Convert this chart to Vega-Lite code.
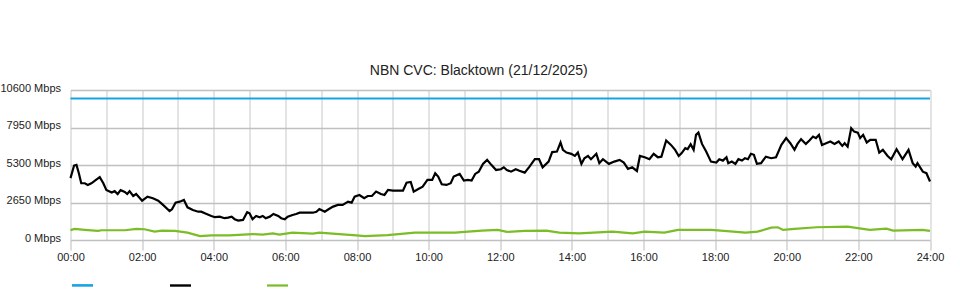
{
  "$schema": "https://vega.github.io/schema/vega-lite/v6.json",
  "width": 859.5,
  "height": 150,
  "autosize": {"type": "none"},
  "padding": {"left": 70.5, "top": 90, "right": 30, "bottom": 60},
  "background": "white",
  "config": {
    "view": {"stroke": null},
    "font": "Liberation Sans"
  },
  "title": {
    "text": "NBN CVC: Blacktown (21/12/2025)",
    "anchor": "middle",
    "frame": "group",
    "dx": -21.5,
    "offset": 4,
    "fontSize": 14,
    "fontWeight": "normal",
    "color": "#222222",
    "font": "Liberation Sans"
  },
  "data": {
    "values": [
      {"s": "Capacity", "t": 0, "v": 10000},
      {"s": "Capacity", "t": 1440, "v": 10000},
      {"s": "Download", "t": 0, "v": 4370},
      {"s": "Download", "t": 6, "v": 5260},
      {"s": "Download", "t": 10, "v": 5310},
      {"s": "Download", "t": 14, "v": 4720},
      {"s": "Download", "t": 18, "v": 4010},
      {"s": "Download", "t": 24, "v": 4010},
      {"s": "Download", "t": 29, "v": 3890},
      {"s": "Download", "t": 35, "v": 4010},
      {"s": "Download", "t": 41, "v": 4200},
      {"s": "Download", "t": 49, "v": 4440},
      {"s": "Download", "t": 55, "v": 4010},
      {"s": "Download", "t": 60, "v": 3540},
      {"s": "Download", "t": 69, "v": 3350},
      {"s": "Download", "t": 74, "v": 3450},
      {"s": "Download", "t": 79, "v": 3250},
      {"s": "Download", "t": 84, "v": 3520},
      {"s": "Download", "t": 91, "v": 3400},
      {"s": "Download", "t": 95, "v": 3250},
      {"s": "Download", "t": 99, "v": 3450},
      {"s": "Download", "t": 105, "v": 3110},
      {"s": "Download", "t": 110, "v": 3250},
      {"s": "Download", "t": 120, "v": 2780},
      {"s": "Download", "t": 129, "v": 3060},
      {"s": "Download", "t": 138, "v": 2950},
      {"s": "Download", "t": 147, "v": 2780},
      {"s": "Download", "t": 155, "v": 2480},
      {"s": "Download", "t": 166, "v": 2050},
      {"s": "Download", "t": 170, "v": 2170},
      {"s": "Download", "t": 176, "v": 2640},
      {"s": "Download", "t": 183, "v": 2710},
      {"s": "Download", "t": 190, "v": 2830},
      {"s": "Download", "t": 196, "v": 2310},
      {"s": "Download", "t": 205, "v": 2120},
      {"s": "Download", "t": 214, "v": 2000},
      {"s": "Download", "t": 219, "v": 2000},
      {"s": "Download", "t": 228, "v": 1840},
      {"s": "Download", "t": 236, "v": 1700},
      {"s": "Download", "t": 242, "v": 1610},
      {"s": "Download", "t": 250, "v": 1650},
      {"s": "Download", "t": 258, "v": 1540},
      {"s": "Download", "t": 264, "v": 1580},
      {"s": "Download", "t": 270, "v": 1650},
      {"s": "Download", "t": 275, "v": 1470},
      {"s": "Download", "t": 281, "v": 1370},
      {"s": "Download", "t": 289, "v": 1420},
      {"s": "Download", "t": 296, "v": 1960},
      {"s": "Download", "t": 300, "v": 1890},
      {"s": "Download", "t": 305, "v": 1470},
      {"s": "Download", "t": 311, "v": 1700},
      {"s": "Download", "t": 317, "v": 1610},
      {"s": "Download", "t": 322, "v": 1700},
      {"s": "Download", "t": 327, "v": 1540},
      {"s": "Download", "t": 334, "v": 1650},
      {"s": "Download", "t": 340, "v": 1840},
      {"s": "Download", "t": 348, "v": 1700},
      {"s": "Download", "t": 353, "v": 1540},
      {"s": "Download", "t": 359, "v": 1470},
      {"s": "Download", "t": 364, "v": 1650},
      {"s": "Download", "t": 372, "v": 1770},
      {"s": "Download", "t": 378, "v": 1840},
      {"s": "Download", "t": 384, "v": 1930},
      {"s": "Download", "t": 395, "v": 1930},
      {"s": "Download", "t": 406, "v": 1930},
      {"s": "Download", "t": 412, "v": 2000},
      {"s": "Download", "t": 417, "v": 2190},
      {"s": "Download", "t": 426, "v": 2000},
      {"s": "Download", "t": 433, "v": 2190},
      {"s": "Download", "t": 440, "v": 2360},
      {"s": "Download", "t": 448, "v": 2480},
      {"s": "Download", "t": 456, "v": 2480},
      {"s": "Download", "t": 465, "v": 2710},
      {"s": "Download", "t": 471, "v": 2640},
      {"s": "Download", "t": 476, "v": 3060},
      {"s": "Download", "t": 484, "v": 3180},
      {"s": "Download", "t": 492, "v": 2950},
      {"s": "Download", "t": 498, "v": 3110},
      {"s": "Download", "t": 505, "v": 3110},
      {"s": "Download", "t": 512, "v": 3420},
      {"s": "Download", "t": 520, "v": 3250},
      {"s": "Download", "t": 526, "v": 3180},
      {"s": "Download", "t": 532, "v": 3540},
      {"s": "Download", "t": 540, "v": 3490},
      {"s": "Download", "t": 549, "v": 3490},
      {"s": "Download", "t": 557, "v": 3490},
      {"s": "Download", "t": 563, "v": 4050},
      {"s": "Download", "t": 570, "v": 4100},
      {"s": "Download", "t": 575, "v": 3420},
      {"s": "Download", "t": 582, "v": 3590},
      {"s": "Download", "t": 590, "v": 3770},
      {"s": "Download", "t": 598, "v": 4250},
      {"s": "Download", "t": 606, "v": 4250},
      {"s": "Download", "t": 611, "v": 4720},
      {"s": "Download", "t": 616, "v": 4480},
      {"s": "Download", "t": 622, "v": 3940},
      {"s": "Download", "t": 630, "v": 3890},
      {"s": "Download", "t": 637, "v": 4010},
      {"s": "Download", "t": 642, "v": 4480},
      {"s": "Download", "t": 652, "v": 4670},
      {"s": "Download", "t": 659, "v": 4200},
      {"s": "Download", "t": 666, "v": 4250},
      {"s": "Download", "t": 672, "v": 4200},
      {"s": "Download", "t": 678, "v": 4670},
      {"s": "Download", "t": 684, "v": 4830},
      {"s": "Download", "t": 691, "v": 5380},
      {"s": "Download", "t": 698, "v": 5660},
      {"s": "Download", "t": 705, "v": 5310},
      {"s": "Download", "t": 713, "v": 4950},
      {"s": "Download", "t": 721, "v": 5000},
      {"s": "Download", "t": 726, "v": 5140},
      {"s": "Download", "t": 731, "v": 4950},
      {"s": "Download", "t": 738, "v": 4830},
      {"s": "Download", "t": 746, "v": 5000},
      {"s": "Download", "t": 752, "v": 4900},
      {"s": "Download", "t": 761, "v": 4760},
      {"s": "Download", "t": 769, "v": 5190},
      {"s": "Download", "t": 778, "v": 5710},
      {"s": "Download", "t": 785, "v": 5710},
      {"s": "Download", "t": 791, "v": 5140},
      {"s": "Download", "t": 801, "v": 5540},
      {"s": "Download", "t": 807, "v": 6210},
      {"s": "Download", "t": 815, "v": 6250},
      {"s": "Download", "t": 821, "v": 6890},
      {"s": "Download", "t": 825, "v": 6370},
      {"s": "Download", "t": 831, "v": 6180},
      {"s": "Download", "t": 839, "v": 6090},
      {"s": "Download", "t": 845, "v": 5940},
      {"s": "Download", "t": 850, "v": 6180},
      {"s": "Download", "t": 856, "v": 5380},
      {"s": "Download", "t": 861, "v": 5780},
      {"s": "Download", "t": 867, "v": 5940},
      {"s": "Download", "t": 872, "v": 5710},
      {"s": "Download", "t": 881, "v": 6090},
      {"s": "Download", "t": 886, "v": 5430},
      {"s": "Download", "t": 892, "v": 5710},
      {"s": "Download", "t": 902, "v": 5380},
      {"s": "Download", "t": 911, "v": 5540},
      {"s": "Download", "t": 920, "v": 5660},
      {"s": "Download", "t": 927, "v": 5470},
      {"s": "Download", "t": 934, "v": 5020},
      {"s": "Download", "t": 941, "v": 5140},
      {"s": "Download", "t": 949, "v": 4880},
      {"s": "Download", "t": 954, "v": 5940},
      {"s": "Download", "t": 962, "v": 5850},
      {"s": "Download", "t": 970, "v": 5710},
      {"s": "Download", "t": 977, "v": 6090},
      {"s": "Download", "t": 984, "v": 5850},
      {"s": "Download", "t": 990, "v": 5890},
      {"s": "Download", "t": 998, "v": 7030},
      {"s": "Download", "t": 1006, "v": 6720},
      {"s": "Download", "t": 1013, "v": 6370},
      {"s": "Download", "t": 1019, "v": 5940},
      {"s": "Download", "t": 1024, "v": 6140},
      {"s": "Download", "t": 1030, "v": 6490},
      {"s": "Download", "t": 1034, "v": 6420},
      {"s": "Download", "t": 1039, "v": 6770},
      {"s": "Download", "t": 1044, "v": 6370},
      {"s": "Download", "t": 1048, "v": 7430},
      {"s": "Download", "t": 1052, "v": 7590},
      {"s": "Download", "t": 1058, "v": 6790},
      {"s": "Download", "t": 1065, "v": 6250},
      {"s": "Download", "t": 1073, "v": 5540},
      {"s": "Download", "t": 1082, "v": 5470},
      {"s": "Download", "t": 1087, "v": 5710},
      {"s": "Download", "t": 1093, "v": 5610},
      {"s": "Download", "t": 1099, "v": 5850},
      {"s": "Download", "t": 1102, "v": 5430},
      {"s": "Download", "t": 1108, "v": 5540},
      {"s": "Download", "t": 1114, "v": 5380},
      {"s": "Download", "t": 1119, "v": 5710},
      {"s": "Download", "t": 1125, "v": 5610},
      {"s": "Download", "t": 1130, "v": 5780},
      {"s": "Download", "t": 1135, "v": 5710},
      {"s": "Download", "t": 1140, "v": 6090},
      {"s": "Download", "t": 1145, "v": 6020},
      {"s": "Download", "t": 1150, "v": 5380},
      {"s": "Download", "t": 1157, "v": 5430},
      {"s": "Download", "t": 1165, "v": 5890},
      {"s": "Download", "t": 1174, "v": 5780},
      {"s": "Download", "t": 1182, "v": 5850},
      {"s": "Download", "t": 1191, "v": 6720},
      {"s": "Download", "t": 1199, "v": 7200},
      {"s": "Download", "t": 1206, "v": 6840},
      {"s": "Download", "t": 1213, "v": 6370},
      {"s": "Download", "t": 1218, "v": 6790},
      {"s": "Download", "t": 1224, "v": 7130},
      {"s": "Download", "t": 1232, "v": 6790},
      {"s": "Download", "t": 1238, "v": 7030},
      {"s": "Download", "t": 1244, "v": 7310},
      {"s": "Download", "t": 1249, "v": 7200},
      {"s": "Download", "t": 1254, "v": 7430},
      {"s": "Download", "t": 1259, "v": 6720},
      {"s": "Download", "t": 1266, "v": 6840},
      {"s": "Download", "t": 1273, "v": 6960},
      {"s": "Download", "t": 1280, "v": 6790},
      {"s": "Download", "t": 1287, "v": 6960},
      {"s": "Download", "t": 1293, "v": 6650},
      {"s": "Download", "t": 1297, "v": 6840},
      {"s": "Download", "t": 1302, "v": 6600},
      {"s": "Download", "t": 1308, "v": 7900},
      {"s": "Download", "t": 1313, "v": 7660},
      {"s": "Download", "t": 1319, "v": 7590},
      {"s": "Download", "t": 1323, "v": 7200},
      {"s": "Download", "t": 1328, "v": 7430},
      {"s": "Download", "t": 1334, "v": 6890},
      {"s": "Download", "t": 1340, "v": 7080},
      {"s": "Download", "t": 1349, "v": 7080},
      {"s": "Download", "t": 1355, "v": 6180},
      {"s": "Download", "t": 1361, "v": 6370},
      {"s": "Download", "t": 1369, "v": 5940},
      {"s": "Download", "t": 1375, "v": 5710},
      {"s": "Download", "t": 1384, "v": 6420},
      {"s": "Download", "t": 1394, "v": 5710},
      {"s": "Download", "t": 1404, "v": 6370},
      {"s": "Download", "t": 1411, "v": 5430},
      {"s": "Download", "t": 1416, "v": 5190},
      {"s": "Download", "t": 1419, "v": 5430},
      {"s": "Download", "t": 1428, "v": 4830},
      {"s": "Download", "t": 1434, "v": 4720},
      {"s": "Download", "t": 1440, "v": 4130},
      {"s": "Upload", "t": 0, "v": 700},
      {"s": "Upload", "t": 7, "v": 780},
      {"s": "Upload", "t": 24, "v": 720},
      {"s": "Upload", "t": 46, "v": 640},
      {"s": "Upload", "t": 52, "v": 690},
      {"s": "Upload", "t": 91, "v": 690},
      {"s": "Upload", "t": 111, "v": 780},
      {"s": "Upload", "t": 124, "v": 760},
      {"s": "Upload", "t": 141, "v": 590},
      {"s": "Upload", "t": 153, "v": 660},
      {"s": "Upload", "t": 175, "v": 640},
      {"s": "Upload", "t": 196, "v": 520},
      {"s": "Upload", "t": 217, "v": 280},
      {"s": "Upload", "t": 236, "v": 330},
      {"s": "Upload", "t": 266, "v": 320},
      {"s": "Upload", "t": 305, "v": 420},
      {"s": "Upload", "t": 322, "v": 380},
      {"s": "Upload", "t": 339, "v": 470},
      {"s": "Upload", "t": 350, "v": 380},
      {"s": "Upload", "t": 372, "v": 520},
      {"s": "Upload", "t": 406, "v": 450},
      {"s": "Upload", "t": 417, "v": 520},
      {"s": "Upload", "t": 456, "v": 400},
      {"s": "Upload", "t": 479, "v": 330},
      {"s": "Upload", "t": 493, "v": 280},
      {"s": "Upload", "t": 531, "v": 350},
      {"s": "Upload", "t": 577, "v": 520},
      {"s": "Upload", "t": 644, "v": 520},
      {"s": "Upload", "t": 689, "v": 660},
      {"s": "Upload", "t": 716, "v": 710},
      {"s": "Upload", "t": 731, "v": 570},
      {"s": "Upload", "t": 761, "v": 640},
      {"s": "Upload", "t": 797, "v": 660},
      {"s": "Upload", "t": 819, "v": 520},
      {"s": "Upload", "t": 852, "v": 470},
      {"s": "Upload", "t": 908, "v": 590},
      {"s": "Upload", "t": 942, "v": 470},
      {"s": "Upload", "t": 962, "v": 590},
      {"s": "Upload", "t": 995, "v": 520},
      {"s": "Upload", "t": 1018, "v": 710},
      {"s": "Upload", "t": 1074, "v": 710},
      {"s": "Upload", "t": 1131, "v": 520},
      {"s": "Upload", "t": 1151, "v": 590},
      {"s": "Upload", "t": 1174, "v": 870},
      {"s": "Upload", "t": 1185, "v": 900},
      {"s": "Upload", "t": 1194, "v": 710},
      {"s": "Upload", "t": 1213, "v": 780},
      {"s": "Upload", "t": 1250, "v": 900},
      {"s": "Upload", "t": 1302, "v": 940},
      {"s": "Upload", "t": 1339, "v": 710},
      {"s": "Upload", "t": 1367, "v": 800},
      {"s": "Upload", "t": 1378, "v": 660},
      {"s": "Upload", "t": 1427, "v": 710},
      {"s": "Upload", "t": 1440, "v": 640}
    ]
  },
  "mark": {"type": "line", "strokeWidth": 2.2, "interpolate": "linear"},
  "encoding": {
    "x": {
      "field": "t",
      "type": "quantitative",
      "scale": {"domain": [0, 1440], "nice": false, "zero": false},
      "axis": {
        "title": null,
        "values": [0, 60, 120, 180, 240, 300, 360, 420, 480, 540, 600, 660, 720, 780, 840, 900, 960, 1020, 1080, 1140, 1200, 1260, 1320, 1380, 1440],
        "labelExpr": "datum.value % 120 === 0 ? ((datum.value < 600 ? '0' : '') + floor(datum.value / 60) + ':00') : ''",
        "grid": true,
        "gridColor": "#c8c8c8",
        "gridWidth": 1,
        "domain": false,
        "ticks": true,
        "tickSize": 10,
        "tickColor": "#bbbbbb",
        "tickOpacity": {"condition": {"test": "datum.value % 120 === 0", "value": 1}, "value": 0},
        "labelPadding": 1,
        "labelFontSize": 11,
        "labelColor": "#222222",
        "labelFont": "Liberation Sans",
        "labelOverlap": false,
        "labelFlush": false
      }
    },
    "y": {
      "field": "v",
      "type": "quantitative",
      "scale": {"domain": [0, 10600], "nice": false},
      "axis": {
        "title": null,
        "values": [0, 2650, 5300, 7950, 10600],
        "labelExpr": "format(datum.value, 'd') + ' Mbps'",
        "grid": true,
        "gridColor": "#c0c0c0",
        "gridWidth": 1.5,
        "domain": false,
        "ticks": false,
        "labelPadding": 10,
        "labelOffset": -2,
        "labelFontSize": 11,
        "labelColor": "#222222",
        "labelFont": "Liberation Sans"
      }
    },
    "color": {
      "field": "s",
      "type": "nominal",
      "scale": {"domain": ["Capacity", "Download", "Upload"], "range": ["#1aa3e4", "#000000", "#7cbc27"]},
      "legend": {
        "title": null,
        "orient": "none",
        "legendX": 0,
        "legendY": 183,
        "direction": "horizontal",
        "symbolType": "stroke",
        "symbolSize": 441,
        "symbolStrokeWidth": 2.2,
        "labelExpr": "''",
        "labelOffset": 0,
        "columnPadding": 66
      }
    },
    "strokeWidth": {
      "field": "s",
      "type": "nominal",
      "scale": {"domain": ["Capacity", "Download", "Upload"], "range": [2.6, 2.2, 2.2]},
      "legend": null
    }
  }
}
